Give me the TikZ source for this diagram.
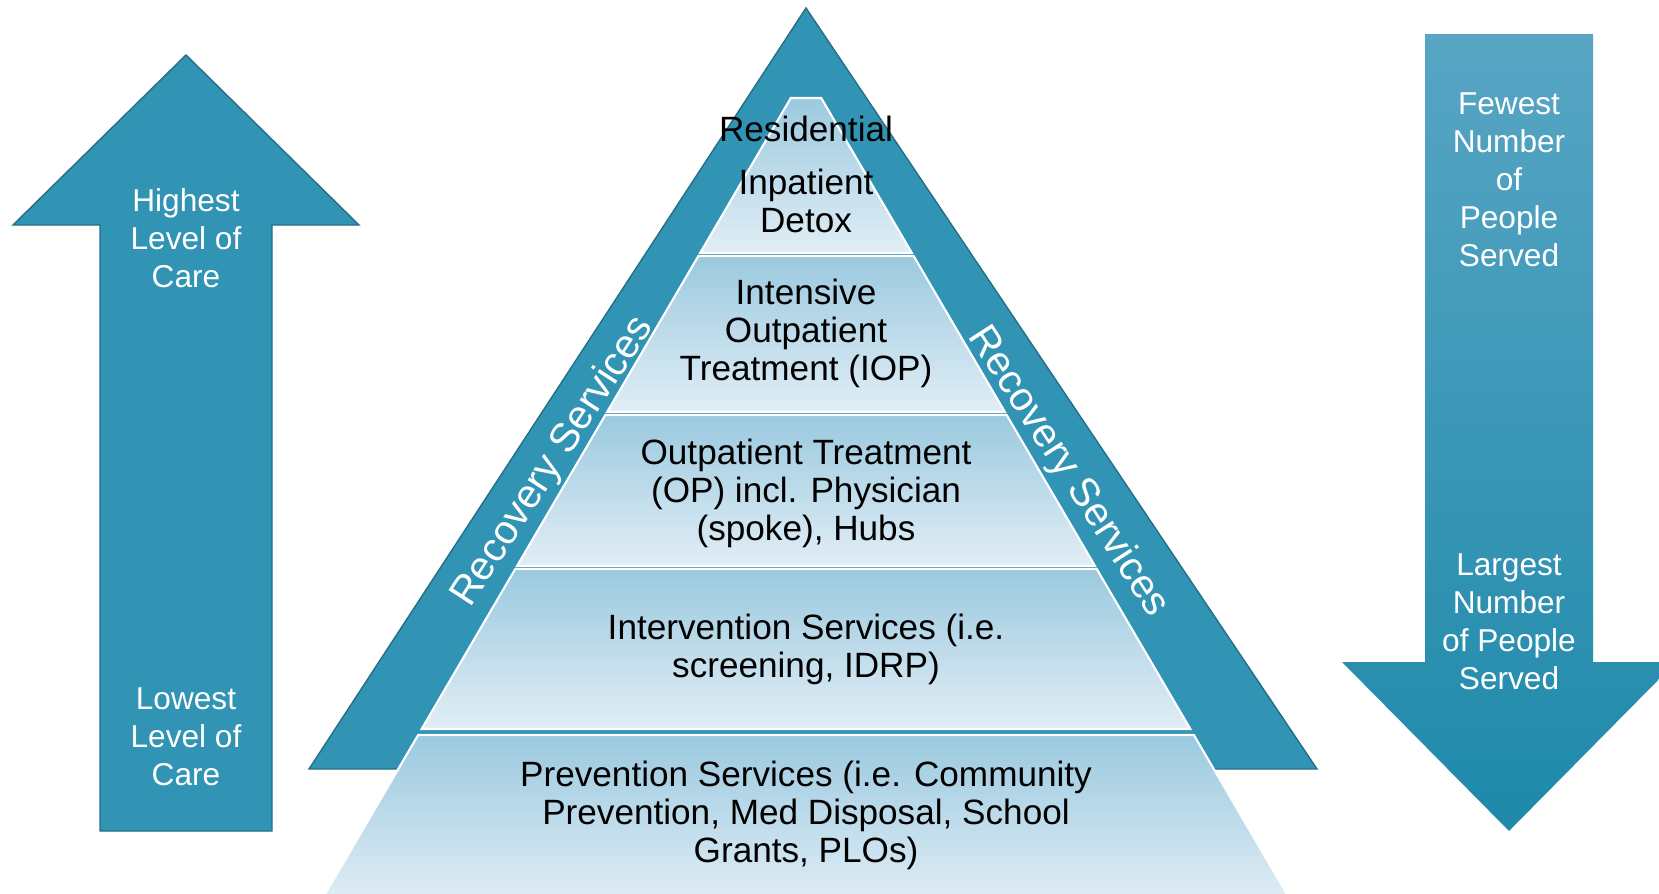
\documentclass[tikz,border=0pt]{standalone}
\usepackage{fontspec}
\setmainfont{Liberation Sans}
\usepackage{tikz}

\definecolor{tealfill}{RGB}{49,148,180}
\definecolor{tealedge}{RGB}{36,110,136}
\definecolor{layertop}{RGB}{155,201,223}
\definecolor{layerbot}{RGB}{225,238,246}
\definecolor{arrtop}{RGB}{88,165,196}
\definecolor{arrbot}{RGB}{30,137,170}

% one band of the pyramid: top y, bottom y
\newcommand{\pyrlayer}[2]{%
  \pgfmathsetmacro\wtop{0.585*(#1-72)}%
  \pgfmathsetmacro\wbot{0.585*(#2-72)}%
  \path[layer] (806-\wtop,#1) -- (806+\wtop,#1) -- (806+\wbot,#2) -- (806-\wbot,#2) -- cycle;
}

\begin{document}
\begin{tikzpicture}[x=0.2mm,y=-0.2mm,
  layer/.style={draw=white,line width=1.2pt,top color=layertop,bottom color=layerbot},
  band/.style={fill=tealfill,draw=tealedge,line width=0.8pt},
  txt/.style={align=center,inner sep=0pt,font=\fontsize{20}{21.6}\selectfont},
  arrtxt/.style={align=center,inner sep=0pt,text=white,font=\fontsize{18}{21.6}\selectfont},
  rectxt/.style={inner sep=0pt,text=white,font=\fontsize{23}{27}\selectfont}]
\useasboundingbox (0,0) rectangle (1659,893);
\clip (0,0) rectangle (1659,893);

\path[band] (806,8) -- (1317,769) -- (309,769) -- cycle;

\pyrlayer{98}{253}
\pyrlayer{256}{412}
\pyrlayer{415}{566}
\pyrlayer{569}{729}
\pyrlayer{735}{905}

\node[txt] (resid) at (806,129) {Residential};
\node[txt] (detox) at (806,201) {Inpatient\\Detox};
\node[txt] (iop) at (806,333) {Intensive\\Outpatient\\Treatment (IOP)};
\node[txt] (op) at (806,493) {Outpatient Treatment\\(OP) incl. Physician\\(spoke), Hubs};
\node[txt] (interv) at (806,649) {Intervention Services (i.e.\\screening, IDRP)};
\node[txt] (prev) at (806,815) {Prevention Services (i.e. Community\\Prevention, Med Disposal, School\\Grants, PLOs)};

\node[rectxt,rotate=57] (recleft) at (553,462) {Recovery Services};
\node[rectxt,rotate=-57] (recright) at (1068,472) {Recovery Services};

% level of care
\path[band] (186,55) -- (359,225) -- (272,225) -- (272,831) -- (100,831) -- (100,225) -- (13,225) -- cycle;
\node[arrtxt] (high) at (186,238) {Highest\\Level of\\Care};
\node[arrtxt] (low) at (186,737) {Lowest\\Level of\\Care};

% people served
\path[top color=arrtop,bottom color=arrbot] (1425,34) -- (1593,34) -- (1593,662) -- (1676,662) -- (1509,831) -- (1342,662) -- (1425,662) -- cycle;
\node[arrtxt] (few) at (1509,180) {Fewest\\Number\\of\\People\\Served};
\node[arrtxt] (large) at (1509,622) {Largest\\Number\\of People\\Served};

\end{tikzpicture}
\end{document}
